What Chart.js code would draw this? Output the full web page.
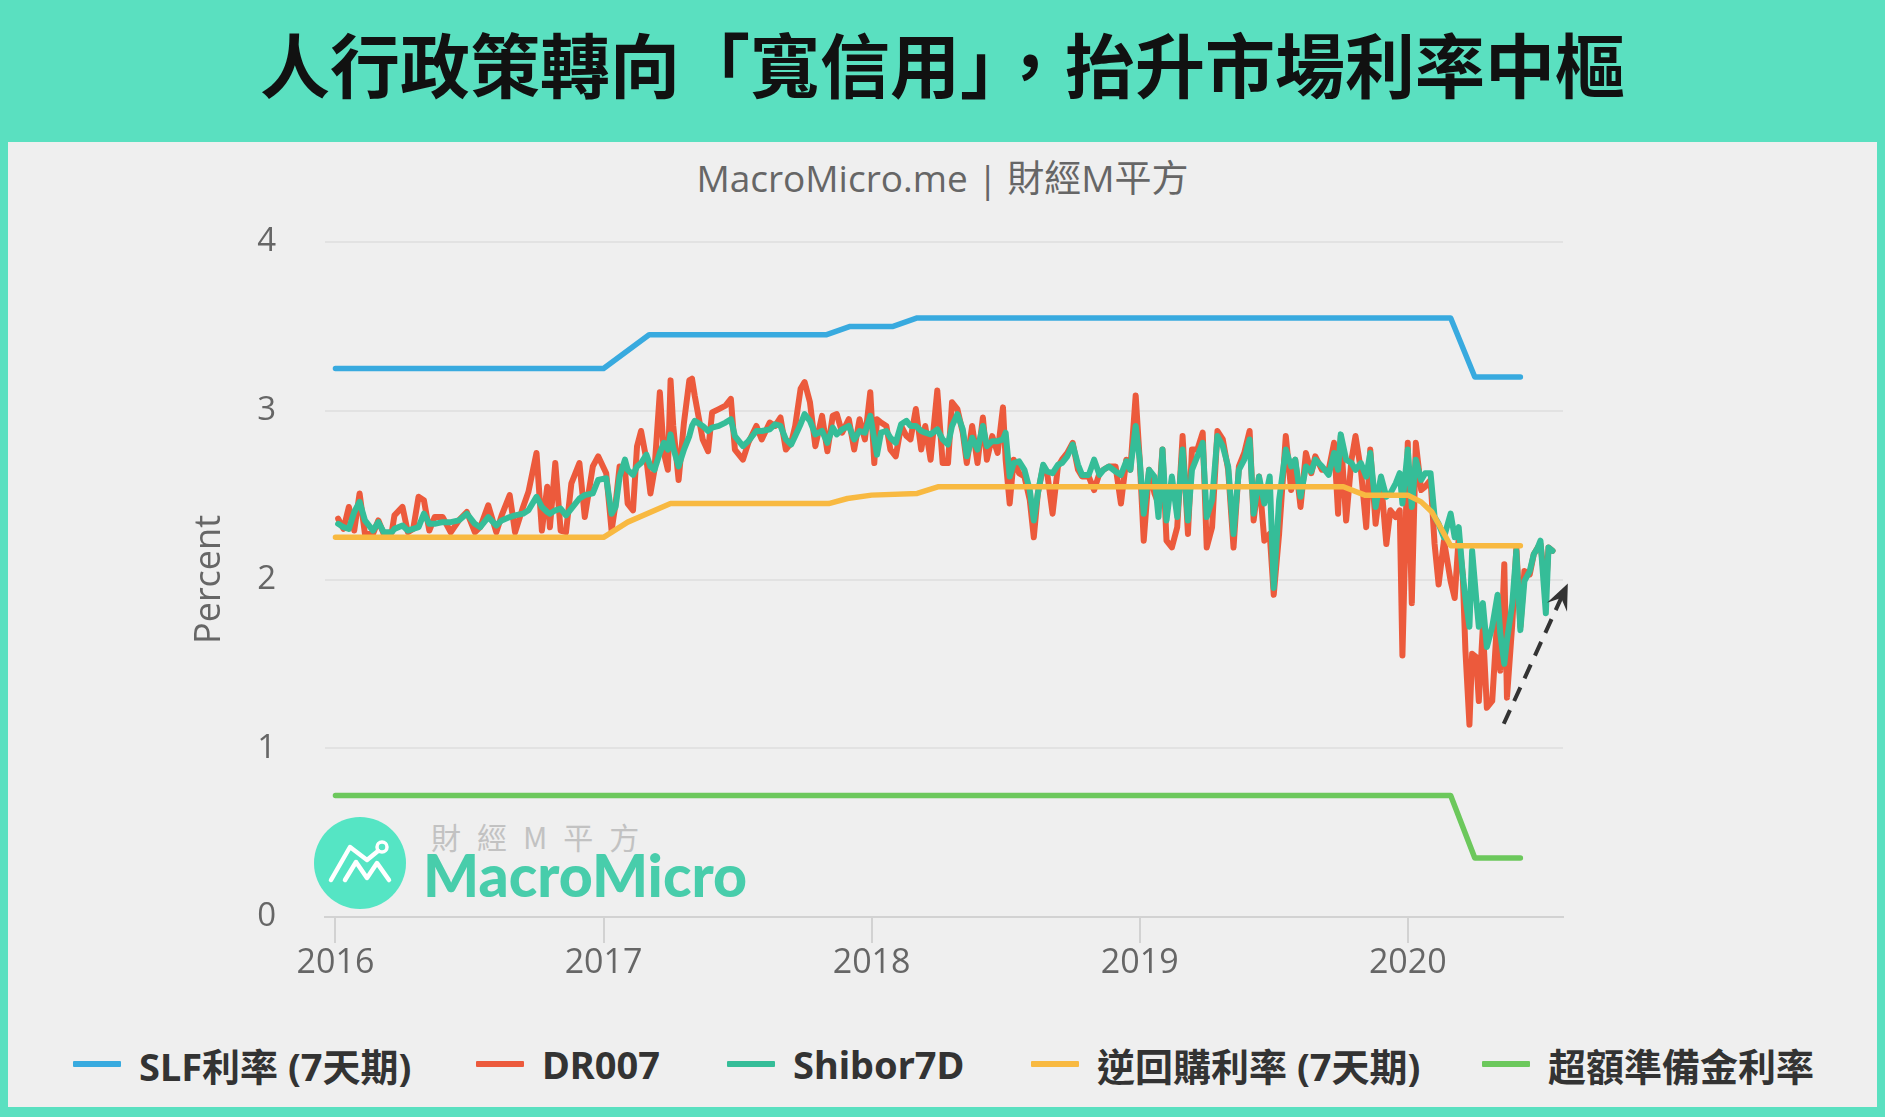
<!DOCTYPE html>
<html>
<head>
<meta charset="utf-8">
<script src="https://cdn.jsdelivr.net/npm/chart.js@4.4.1/dist/chart.umd.min.js"></script>
<style>
  html, body { margin: 0; padding: 0; }
  body {
    width: 1885px; height: 1117px; position: relative; overflow: hidden;
    background: #5ae0c0;
  }
  #title {
    position: absolute; left: 0; top: -8px; width: 1885px; height: 140px;
    display: flex; align-items: center; justify-content: center;
    font-family: 'Noto Sans CJK TC', sans-serif; font-weight: 700;
    font-size: 70px; color: #111;
  }
  #panel {
    position: absolute; left: 8px; top: 142px; width: 1869px; height: 965px;
    background: #efefef;
  }
  #subtitle {
    position: absolute; left: 0; top: 14px; width: 1869px; line-height: 44px;
    text-align: center; font-family: 'Open Sans', 'Noto Sans CJK TC', sans-serif;
    font-size: 37px; color: #666; white-space: nowrap;
  }
  #wmLogo { position: absolute; left: 306px; top: 675px; }
  #wmCn {
    position: absolute; left: 423px; top: 676px; line-height: 36px;
    font-family: 'Noto Sans CJK TC', sans-serif; font-size: 30px;
    letter-spacing: 16px; color: #c2c2c2; white-space: nowrap;
  }
  #wmEn {
    position: absolute; left: 415px; top: 704px; line-height: 58px;
    font-family: Lato, sans-serif; font-weight: 900; font-size: 59px;
    color: #48cdab; white-space: nowrap;
  }
  #wrap { position: absolute; left: 0; top: 0; width: 1869px; height: 860px; }
  .lg {
    position: absolute; top: 898px; height: 48px;
    display: flex; align-items: center; gap: 18px;
    font-family: 'Noto Sans', 'Noto Sans CJK TC', sans-serif; font-weight: 700;
    font-size: 38px; color: #333; white-space: nowrap;
  }
  .lg i { display: block; width: 48px; height: 6px; border-radius: 1px; }
</style>
</head>
<body>
<div id="title">人行政策轉向「寬信用」，抬升市場利率中樞</div>
<div id="panel">
  <div id="subtitle">MacroMicro.me | 財經M平方</div>
  <svg id="wmLogo" width="92" height="92" viewBox="0 0 92 92">
    <circle cx="46" cy="46" r="46" fill="#55e5c4"/>
    <polyline points="17,63 36,30 53,43 64,34" fill="none" stroke="#fff" stroke-width="4.5" stroke-linecap="round" stroke-linejoin="round"/>
    <polyline points="31,63 42,45 53,61 63,46 75,63" fill="none" stroke="#fff" stroke-width="4.5" stroke-linecap="round" stroke-linejoin="round"/>
    <circle cx="68" cy="30" r="5" fill="none" stroke="#fff" stroke-width="3.5"/>
  </svg>
  <div id="wmCn">財經M平方</div>
  <div id="wmEn">MacroMicro</div>
  <div id="wrap"><canvas id="rateChart"></canvas></div>
  <div id="legend"></div>
</div>
<script>
// policy rates (knots where the rate changes)
const slfX = [2016.0, 2017.0, 2017.17, 2017.83, 2017.92, 2018.08, 2018.17, 2020.16, 2020.25, 2020.42];
const slfY = [3.25, 3.25, 3.45, 3.45, 3.5, 3.5, 3.55, 3.55, 3.2, 3.2];

const repoX = [2016.0, 2017.0, 2017.09, 2017.25, 2017.84, 2017.91, 2018.0, 2018.17, 2018.25, 2019.76, 2019.84, 2020.0, 2020.05, 2020.09, 2020.16, 2020.42];
const repoY = [2.25, 2.25, 2.34, 2.45, 2.45, 2.48, 2.5, 2.51, 2.55, 2.55, 2.5, 2.5, 2.46, 2.4, 2.2, 2.2];

const ioerX = [2016.0, 2020.16, 2020.25, 2020.42];
const ioerY = [0.72, 0.72, 0.35, 0.35];

// market rates, shared dates (decimal years)
const days = [
  2016.01, 2016.03, 2016.05, 2016.07, 2016.09, 2016.11, 2016.14, 2016.16, 2016.18, 2016.21,
  2016.22, 2016.25, 2016.27, 2016.29, 2016.31, 2016.33, 2016.35, 2016.37, 2016.40, 2016.43,
  2016.46, 2016.49, 2016.52, 2016.54, 2016.57, 2016.60, 2016.62, 2016.65, 2016.67, 2016.70,
  2016.72, 2016.75, 2016.77, 2016.79, 2016.80, 2016.82, 2016.84, 2016.86, 2016.88, 2016.91,
  2016.93, 2016.96, 2016.98,
  2017.01, 2017.03, 2017.045, 2017.06, 2017.08, 2017.09, 2017.11, 2017.125, 2017.14, 2017.16,
  2017.175, 2017.19, 2017.21, 2017.225, 2017.24, 2017.25, 2017.26, 2017.28, 2017.30, 2017.32,
  2017.33, 2017.34, 2017.37, 2017.39, 2017.405, 2017.43, 2017.455, 2017.475, 2017.49, 2017.52,
  2017.54, 2017.57, 2017.59, 2017.62, 2017.64, 2017.66, 2017.68, 2017.70, 2017.715, 2017.735,
  2017.75, 2017.77, 2017.79, 2017.815, 2017.835, 2017.855, 2017.87, 2017.89, 2017.915, 2017.935,
  2017.955, 2017.975, 2017.995,
  2018.01, 2018.02, 2018.035, 2018.055, 2018.07, 2018.09, 2018.11, 2018.13, 2018.145, 2018.165,
  2018.185, 2018.20, 2018.22, 2018.245, 2018.265, 2018.285, 2018.30, 2018.32, 2018.34, 2018.355,
  2018.375, 2018.395, 2018.415, 2018.43, 2018.45, 2018.47, 2018.49, 2018.50, 2018.515, 2018.53,
  2018.55, 2018.57, 2018.59, 2018.605, 2018.62, 2018.64, 2018.655, 2018.675, 2018.695, 2018.71,
  2018.73, 2018.75, 2018.77, 2018.785, 2018.81, 2018.83, 2018.85, 2018.865, 2018.885, 2018.91,
  2018.93, 2018.95, 2018.965, 2018.985,
  2019.00, 2019.015, 2019.035, 2019.055, 2019.07, 2019.085, 2019.10, 2019.12, 2019.14, 2019.16,
  2019.18, 2019.195, 2019.215, 2019.235, 2019.25, 2019.27, 2019.29, 2019.31, 2019.33, 2019.35,
  2019.37, 2019.39, 2019.41, 2019.425, 2019.445, 2019.465, 2019.485, 2019.50, 2019.52, 2019.545,
  2019.565, 2019.58, 2019.60, 2019.62, 2019.64, 2019.655, 2019.68, 2019.705, 2019.725, 2019.74,
  2019.75, 2019.77, 2019.79, 2019.805, 2019.825, 2019.845, 2019.86, 2019.88, 2019.90, 2019.92,
  2019.935, 2019.955, 2019.97, 2019.98,
  2020.00, 2020.015, 2020.03, 2020.05, 2020.065, 2020.085, 2020.10, 2020.115, 2020.135, 2020.16,
  2020.175, 2020.19, 2020.205, 2020.215, 2020.23, 2020.24, 2020.255, 2020.265, 2020.28, 2020.295,
  2020.315, 2020.335, 2020.345, 2020.36, 2020.37, 2020.39, 2020.405, 2020.42, 2020.435, 2020.455,
  2020.47, 2020.485, 2020.495, 2020.515, 2020.525, 2020.54
];

const dr007 = [
  2.36, 2.30, 2.43, 2.29, 2.51, 2.27, 2.27, 2.35, 2.27, 2.28,
  2.38, 2.43, 2.28, 2.30, 2.49, 2.47, 2.29, 2.37, 2.37, 2.28,
  2.35, 2.40, 2.28, 2.31, 2.44, 2.28, 2.38, 2.50, 2.28, 2.43,
  2.52, 2.75, 2.29, 2.55, 2.31, 2.69, 2.29, 2.28, 2.57, 2.69,
  2.37, 2.67, 2.73,
  2.63, 2.29, 2.45, 2.67, 2.65, 2.45, 2.41, 2.79, 2.88, 2.71,
  2.51, 2.65, 3.11, 2.75, 2.65, 3.18, 2.91, 2.59, 2.93, 3.18,
  3.19, 3.09, 2.83, 2.76, 2.99, 3.01, 3.03, 3.07, 2.77, 2.71,
  2.81, 2.91, 2.83, 2.93, 2.91, 2.96, 2.77, 2.81, 2.91, 3.13,
  3.17, 3.05, 2.79, 2.97, 2.76, 2.97, 2.98, 2.87, 2.95, 2.77,
  2.95, 2.83, 3.11,
  2.69, 2.95, 2.93, 2.91, 2.77, 2.73, 2.91, 2.85, 2.83, 3.01,
  2.77, 2.91, 2.71, 3.12, 2.69, 2.69, 3.05, 3.01, 2.87, 2.69,
  2.91, 2.69, 2.96, 2.71, 2.85, 2.75, 3.02, 2.71, 2.45, 2.71,
  2.63, 2.61, 2.47, 2.25, 2.51, 2.67, 2.63, 2.39, 2.67, 2.71,
  2.75, 2.81, 2.65, 2.61, 2.61, 2.53, 2.63, 2.65, 2.67, 2.67,
  2.45, 2.71, 2.65, 3.09,
  2.71, 2.23, 2.65, 2.51, 2.45, 2.77, 2.23, 2.19, 2.31, 2.85,
  2.27, 2.77, 2.77, 2.87, 2.19, 2.31, 2.88, 2.83, 2.65, 2.19,
  2.67, 2.75, 2.88, 2.35, 2.61, 2.23, 2.27, 1.91, 2.27, 2.85,
  2.53, 2.71, 2.43, 2.75, 2.63, 2.73, 2.65, 2.65, 2.81, 2.39,
  2.85, 2.35, 2.71, 2.85, 2.65, 2.31, 2.77, 2.33, 2.59, 2.21,
  2.41, 2.37, 2.41, 1.55,
  2.81, 1.86, 2.81, 2.53, 2.55, 2.59, 2.21, 1.97, 2.23, 1.99,
  1.89, 2.25, 2.03, 1.58, 1.14, 1.56, 1.54, 1.28, 1.72, 1.24,
  1.28, 1.80, 1.46, 2.09, 1.30, 1.74, 2.19, 1.72, 2.05, 2.03,
  2.15, 2.19, 2.21, 1.93, 2.19, 2.17
];

const shibor7d = [
  2.33, 2.31, 2.30, 2.40, 2.46, 2.35, 2.29, 2.34, 2.28, 2.28,
  2.30, 2.32, 2.29, 2.30, 2.31, 2.39, 2.33, 2.33, 2.34, 2.34,
  2.35, 2.39, 2.33, 2.31, 2.37, 2.32, 2.35, 2.37, 2.38, 2.39,
  2.41, 2.49, 2.43, 2.40, 2.39, 2.41, 2.42, 2.38, 2.42, 2.48,
  2.50, 2.51, 2.59,
  2.60, 2.39, 2.43, 2.61, 2.71, 2.65, 2.62, 2.67, 2.69, 2.74,
  2.67, 2.65, 2.75, 2.81, 2.77, 2.86, 2.78, 2.67, 2.77, 2.85,
  2.91, 2.94, 2.91, 2.88, 2.90, 2.91, 2.93, 2.95, 2.85, 2.79,
  2.82, 2.88, 2.88, 2.89, 2.92, 2.91, 2.83, 2.80, 2.85, 2.92,
  2.98, 2.94, 2.86, 2.88, 2.81, 2.90, 2.86, 2.89, 2.91, 2.83,
  2.88, 2.87, 2.97,
  2.83, 2.74, 2.87, 2.88, 2.84, 2.81, 2.92, 2.94, 2.91, 2.91,
  2.88, 2.87, 2.86, 2.89, 2.83, 2.80, 2.91, 2.98, 2.89, 2.73,
  2.84, 2.77, 2.91, 2.79, 2.82, 2.82, 2.83, 2.87, 2.61, 2.69,
  2.70, 2.65, 2.53, 2.35, 2.51, 2.68, 2.64, 2.63, 2.68, 2.69,
  2.73, 2.80, 2.68, 2.62, 2.62, 2.71, 2.62, 2.65, 2.67, 2.64,
  2.62, 2.70, 2.65, 2.91,
  2.71, 2.39, 2.65, 2.61, 2.37, 2.77, 2.35, 2.61, 2.37, 2.77,
  2.35, 2.65, 2.73, 2.81, 2.37, 2.47, 2.85, 2.79, 2.67, 2.27,
  2.65, 2.71, 2.83, 2.39, 2.61, 2.45, 2.61, 1.95, 2.47, 2.77,
  2.67, 2.71, 2.49, 2.67, 2.64, 2.71, 2.67, 2.62, 2.75, 2.65,
  2.86, 2.71, 2.69, 2.65, 2.69, 2.61, 2.75, 2.43, 2.61, 2.49,
  2.51, 2.57, 2.63, 2.45,
  2.77, 2.43, 2.71, 2.59, 2.63, 2.63, 2.37, 2.33, 2.25, 2.39,
  2.25, 2.31, 2.03, 1.89, 1.72, 2.17, 1.89, 1.72, 1.86, 1.60,
  1.72, 1.91, 1.68, 1.50, 1.64, 1.86, 2.17, 1.70, 1.99, 2.05,
  2.15, 2.19, 2.23, 1.80, 2.19, 2.17
];

const yTicks = [0, 1, 2, 3, 4];
const yearTicks = [2016, 2017, 2018, 2019, 2020];
const arrowFrom = [2020.358, 1.145];
const arrowTo = [2020.597, 1.976];

const series = [
  { label: 'SLF利率 (7天期)', xs: slfX, ys: slfY, color: '#38aadf' },
  { label: 'DR007', xs: days, ys: dr007, color: '#ec5a3c' },
  { label: 'Shibor7D', xs: days, ys: shibor7d, color: '#35bd98' },
  { label: '逆回購利率 (7天期)', xs: repoX, ys: repoY, color: '#f8b941' },
  { label: '超額準備金利率', xs: ioerX, ys: ioerY, color: '#6cc85c' }
];
// top-most first: repo, shibor, dr007, slf, ioer
const drawOrder = [3, 2, 1, 0, 4];
const legendLeft = [65, 468, 719, 1023, 1474];

document.addEventListener('DOMContentLoaded', function() {
  Chart.defaults.font.family = "'Open Sans', 'Noto Sans CJK TC', sans-serif";
  Chart.defaults.color = '#666';

  const arrowPlugin = {
    id: 'trendArrow',
    afterDatasetsDraw(chart) {
      const ctx = chart.ctx;
      const xs = chart.scales.x, ys = chart.scales.y;
      const x0 = xs.getPixelForValue(arrowFrom[0]), y0 = ys.getPixelForValue(arrowFrom[1]);
      const x1 = xs.getPixelForValue(arrowTo[0]), y1 = ys.getPixelForValue(arrowTo[1]);
      const a = Math.atan2(y1 - y0, x1 - x0);
      const c = Math.cos(a), s = Math.sin(a);
      ctx.save();
      ctx.strokeStyle = '#333';
      ctx.fillStyle = '#333';
      ctx.lineWidth = 4;
      ctx.setLineDash([15, 10]);
      ctx.beginPath();
      ctx.moveTo(x0, y0);
      ctx.lineTo(x1 - 14 * c, y1 - 14 * s);
      ctx.stroke();
      ctx.setLineDash([]);
      ctx.beginPath();
      ctx.moveTo(x1, y1);
      ctx.lineTo(x1 - 26 * c + 11 * s, y1 - 26 * s - 11 * c);
      ctx.lineTo(x1 - 16 * c, y1 - 16 * s);
      ctx.lineTo(x1 - 26 * c - 11 * s, y1 - 26 * s + 11 * c);
      ctx.closePath();
      ctx.fill();
      ctx.restore();
    }
  };

  const datasets = drawOrder.map(function(i) {
    const sr = series[i];
    return {
      label: sr.label,
      data: sr.xs.map((x, k) => ({ x: x, y: sr.ys[k] })),
      borderColor: sr.color,
      backgroundColor: sr.color,
      borderWidth: i === 1 || i === 2 ? 6 : 5.5,
      pointRadius: 0,
      tension: 0,
      borderJoinStyle: 'round',
      borderCapStyle: 'round',
      fill: false
    };
  });

  const ctx = document.getElementById('rateChart').getContext('2d');
  new Chart(ctx, {
    type: 'line',
    data: { datasets: datasets },
    plugins: [arrowPlugin],
    options: {
      responsive: true,
      maintainAspectRatio: false,
      animation: false,
      events: [],
      layout: { padding: { left: 176, right: 314, top: 100, bottom: 0 } },
      plugins: {
        legend: { display: false },
        tooltip: { enabled: false }
      },
      scales: {
        x: {
          type: 'linear',
          min: 2015.961,
          max: 2020.579,
          afterFit: function(scale) { scale.height = 85; },
          afterBuildTicks: function(scale) {
            scale.ticks = yearTicks.map(v => ({ value: v }));
          },
          ticks: {
            autoSkip: false,
            maxRotation: 0,
            padding: 0,
            color: '#666',
            font: { size: 34 },
            callback: v => String(v)
          },
          grid: {
            drawOnChartArea: false,
            drawTicks: true,
            tickLength: 26,
            color: '#d2d2d2',
            lineWidth: 2
          },
          border: { display: true, color: '#d2d2d2', width: 2 }
        },
        y: {
          min: 0,
          max: 4,
          afterFit: function(scale) { scale.width = 141; },
          afterBuildTicks: function(scale) {
            scale.ticks = yTicks.map(v => ({ value: v }));
          },
          ticks: {
            padding: 49,
            color: '#666',
            font: { size: 33 }
          },
          grid: {
            drawTicks: false,
            color: '#e2e2e2',
            lineWidth: 2
          },
          border: { display: false },
          title: {
            display: true,
            text: 'Percent',
            color: '#666',
            font: { size: 36 },
            padding: { top: 4, bottom: 0 }
          }
        }
      }
    }
  });

  // legend
  const legend = document.getElementById('legend');
  series.forEach(function(sr, i) {
    const item = document.createElement('div');
    item.className = 'lg';
    item.style.left = legendLeft[i] + 'px';
    const mark = document.createElement('i');
    mark.style.background = sr.color;
    const txt = document.createElement('span');
    txt.textContent = sr.label;
    item.appendChild(mark);
    item.appendChild(txt);
    legend.appendChild(item);
  });
});
</script>
</body>
</html>
